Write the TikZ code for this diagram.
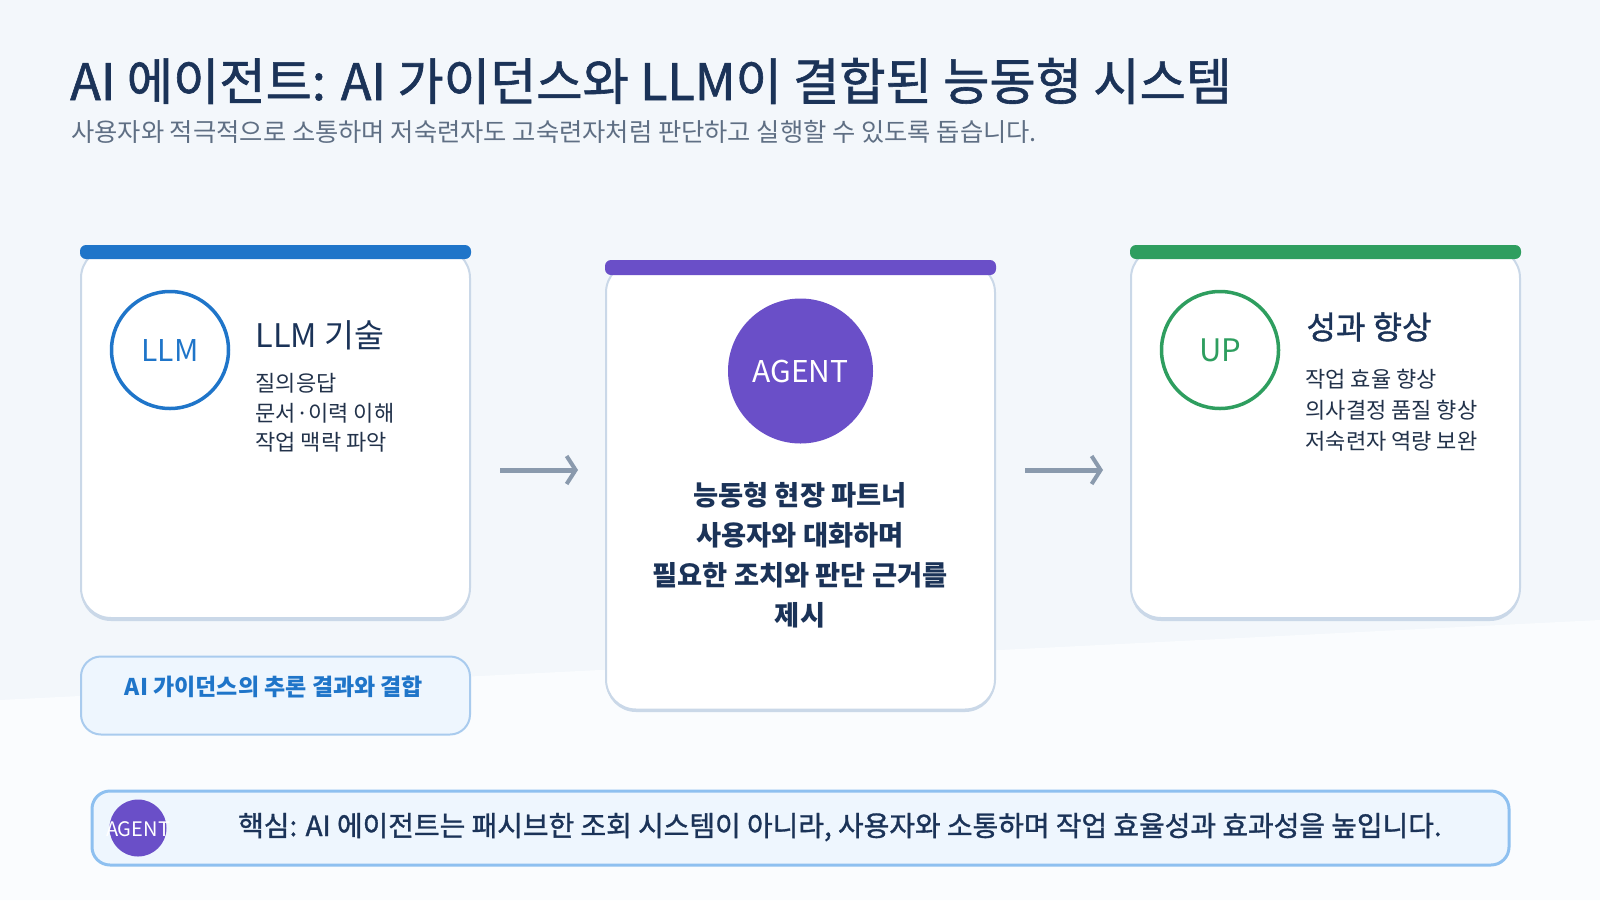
\documentclass[tikz,border=0pt]{standalone}
\usepackage{fontspec}
\setmainfont{Noto Sans CJK KR}
\newfontfamily\medfont{Noto Sans CJK KR}[FakeBold=1.2]
\usetikzlibrary{arrows.meta}
\definecolor{bg}{HTML}{F3F7FB}
\definecolor{bglight}{HTML}{FAFCFE}
\definecolor{titlec}{HTML}{1B3358}
\definecolor{subc}{HTML}{5F6F84}
\definecolor{cardb}{HTML}{CAD8E8}
\definecolor{cblue}{HTML}{1F75C9}
\definecolor{cpurple}{HTML}{6A4FC8}
\definecolor{cgreen}{HTML}{2E9E5F}
\definecolor{arrowc}{HTML}{8A9AAD}
\definecolor{notefill}{HTML}{EEF6FE}
\definecolor{noteb}{HTML}{A9CBEE}
\definecolor{keyb}{HTML}{8EC0F0}
\definecolor{bodyc}{HTML}{22324A}
\newcommand{\fs}[1]{\fontsize{#1}{#1}\selectfont}
\tikzset{
  cardbox/.style={draw=cardb, line width=2pt, fill=white, rounded corners=30pt, inner sep=0pt},
  cardshadow/.style={fill=cardb, rounded corners=30pt},
  ring/.style={circle, draw=#1, line width=3.5pt, fill=white, inner sep=0pt, minimum size=117pt, text=#1, font=\fs{30}},
  head/.style={anchor=base west, text=titlec, font=\fs{32.5}},
  item/.style={anchor=base west, text=bodyc, font=\fs{22}},
  midline/.style={anchor=base, text=titlec, font=\bfseries\fs{27.3}},
  flowarrow/.style={draw=arrowc, line width=5pt, -{Straight Barb[length=9pt, width=28pt, line width=4pt]}},
}
\begin{document}
\begin{tikzpicture}[x=1pt, y=-1pt]
\useasboundingbox (0,0) rectangle (1600,900);
\fill[bg] (0,0) rectangle (1600,900);
\fill[bglight] (0,700) -- (1600,620) -- (1600,900) -- (0,900) -- cycle;

% title
\node[anchor=base west, inner sep=0pt, text=titlec, font=\medfont\fs{50.3}] (title) at (70,100)
  {AI 에이전트: AI 가이던스와 LLM이 결합된 능동형 시스템};
\node[anchor=base west, inner sep=0pt, text=subc, font=\fs{25.3}] (subtitle) at (71,141)
  {사용자와 적극적으로 소통하며 저숙련자도 고숙련자처럼 판단하고 실행할 수 있도록 돕습니다.};

% left card
\fill[cardshadow] (81,248) rectangle (470,621);
\node[cardbox, minimum width=389pt, minimum height=370pt] (card1) at (275.5,433) {};
\fill[cblue, rounded corners=6pt] (80,245) rectangle (471,259);
\node[ring=cblue] (llm) at (170,350) {LLM};
\node[head] (h1) at (252,347) {LLM 기술};
\node[item] (i11) at (252,391) {질의응답};
\node[item] (i12) at (252,421) {문서·이력 이해};
\node[item] (i13) at (252,450) {작업 맥락 파악};

% middle card
\fill[cardshadow] (606,264) rectangle (995,712);
\node[cardbox, minimum width=389pt, minimum height=447pt] (card2) at (800.5,486) {};
\fill[cpurple, rounded corners=6pt] (605,260) rectangle (996,275);
\node[circle, fill=cpurple, minimum size=145pt, inner sep=0pt, text=white, font=\fs{30}] (agent) at (800.5,371) {AGENT};
\node[midline] (m1) at (800,505) {능동형 현장 파트너};
\node[midline] (m2) at (800,545) {사용자와 대화하며};
\node[midline] (m3) at (800,585) {필요한 조치와 판단 근거를};
\node[midline] (m4) at (800,625) {제시};

% right card
\fill[cardshadow] (1131,248) rectangle (1520,621);
\node[cardbox, minimum width=389pt, minimum height=370pt] (card3) at (1325.5,433) {};
\fill[cgreen, rounded corners=6pt] (1130,245) rectangle (1521,259);
\node[ring=cgreen, font=\fs{31}] (up) at (1220,350) {UP};
\node[head, font=\medfont\fs{32}] (h3) at (1303,339) {성과 향상};
\node[item] (i31) at (1302,387) {작업 효율 향상};
\node[item] (i32) at (1302,418) {의사결정 품질 향상};
\node[item] (i33) at (1302,449) {저숙련자 역량 보완};

% arrows
\coordinate (a1s) at (500,470);
\coordinate (a1e) at (578,470);
\coordinate (a2s) at (1025,470);
\coordinate (a2e) at (1103,470);
\draw[flowarrow] (a1s) -- (a1e);
\draw[flowarrow] (a2s) -- (a2e);

% note box
\node[draw=noteb, line width=2pt, fill=notefill, rounded corners=20pt, minimum width=389pt, minimum height=78pt, inner sep=0pt] (note) at (275.5,695.5) {};
\node[text=cblue, font=\bfseries\fs{23}] (notetext) at (274,687) {AI 가이던스의 추론 결과와 결합};

% key box
\node[draw=keyb, line width=3pt, fill=notefill, rounded corners=18pt, minimum width=1417pt, minimum height=74pt, inner sep=0pt] (key) at (800.5,828) {};
\node[circle, fill=cpurple, minimum size=57pt, inner sep=0pt] (kagent) at (138,828) {};
\node[text=white, font=\fs{20}] (kagenttext) at (138,829) {AGENT};
\node[anchor=base west, inner sep=0pt, text=titlec, font=\medfont\fs{27.9}] (keytext) at (238,836)
  {핵심: AI 에이전트는 패시브한 조회 시스템이 아니라, 사용자와 소통하며 작업 효율성과 효과성을 높입니다.};
\end{tikzpicture}
\end{document}
